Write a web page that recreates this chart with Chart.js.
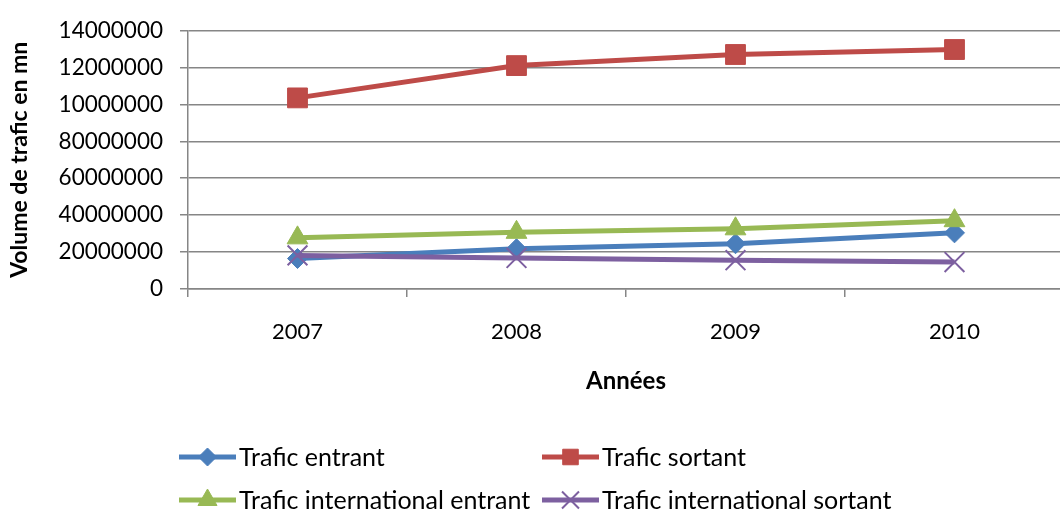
<!DOCTYPE html>
<html>
<head>
<meta charset="utf-8">
<script src="https://cdn.jsdelivr.net/npm/chart.js@4/dist/chart.umd.min.js"></script>
<style>
  html, body { margin: 0; padding: 0; background: #fff; overflow: hidden; }
  canvas { display: block; }
</style>
</head>
<body>
<canvas id="trafic" width="1080" height="516"></canvas>
<script>
const years = ["2007", "2008", "2009", "2010"];
const traficEntrant = [16500000, 21800000, 24500000, 30400000];
const traficSortant = [103500000, 121000000, 127000000, 129700000];
const intlEntrant = [27700000, 30700000, 32600000, 37000000];
const intlSortant = [18200000, 16800000, 15600000, 14600000];
const yTickLabels = ["0", "20000000", "40000000", "60000000", "80000000", "10000000", "12000000", "14000000"];

Chart.defaults.font.family = "Lato";
Chart.defaults.color = "#000";

// legend drawn by hand: two fixed columns like the original
const legendPlugin = {
  id: "bottomLegend",
  afterDraw(chart) {
    const ctx = chart.ctx;
    chart.data.datasets.forEach((ds, i) => {
      const x0 = i % 2 ? 542 : 179;
      const y = i < 2 ? 457 : 500;
      ctx.save();
      ctx.strokeStyle = ds.borderColor;
      ctx.lineWidth = 5;
      ctx.beginPath();
      ctx.moveTo(x0, y);
      ctx.lineTo(x0 + 57, y);
      ctx.stroke();
      ctx.fillStyle = ds.pointBackgroundColor;
      ctx.strokeStyle = ds.pointBorderColor;
      ctx.lineWidth = ds.pointBorderWidth;
      Chart.helpers.drawPoint(ctx, {
        pointStyle: ds.pointStyle,
        radius: ds.legendRadius,
        borderWidth: ds.pointBorderWidth,
        rotation: 0
      }, x0 + 28.5, y);
      ctx.fillStyle = "#000";
      ctx.font = "25px Lato";
      ctx.textBaseline = "middle";
      ctx.fillText(ds.label, x0 + 60, y + 1);
      ctx.restore();
    });
  }
};

new Chart(document.getElementById("trafic"), {
  type: "line",
  data: {
    labels: years,
    datasets: [
      {
        label: "Trafic entrant",
        data: traficEntrant,
        borderColor: "#4A7EBB",
        pointBackgroundColor: "#4A7EBB",
        pointBorderColor: "#4A7EBB",
        pointBorderWidth: 1,
        pointStyle: "rectRot",
        pointRadius: 10,
        legendRadius: 9,
        borderWidth: 5,
        order: 4
      },
      {
        label: "Trafic sortant",
        data: traficSortant,
        borderColor: "#BE4B48",
        pointBackgroundColor: "#BE4B48",
        pointBorderColor: "#BE4B48",
        pointBorderWidth: 1,
        pointStyle: "rect",
        pointRadius: 14,
        legendRadius: 11,
        borderWidth: 5,
        order: 3
      },
      {
        label: "Trafic international entrant",
        data: intlEntrant,
        borderColor: "#98B954",
        pointBackgroundColor: "#98B954",
        pointBorderColor: "#98B954",
        pointBorderWidth: 1,
        pointStyle: "triangle",
        pointRadius: 12,
        legendRadius: 11,
        borderWidth: 5,
        order: 2
      },
      {
        label: "Trafic international sortant",
        data: intlSortant,
        borderColor: "#7D60A0",
        pointBackgroundColor: "#7D60A0",
        pointBorderColor: "#7D60A0",
        pointBorderWidth: 2,
        pointStyle: "crossRot",
        pointRadius: 14,
        legendRadius: 12,
        borderWidth: 5,
        order: 1
      }
    ]
  },
  options: {
    responsive: false,
    animation: false,
    layout: { padding: { top: 28, left: 0, right: 0, bottom: 116 } },
    plugins: {
      legend: { display: false },
      tooltip: { enabled: false }
    },
    scales: {
      x: {
        offset: true,
        grid: {
          offset: true,
          drawOnChartArea: false,
          tickLength: 8,
          color: "#868686",
          lineWidth: 1.5
        },
        border: { color: "#868686", width: 1.5 },
        ticks: { font: { size: 22 }, padding: 22 },
        title: {
          display: true,
          text: "Années",
          font: { size: 24, weight: "bold" },
          padding: { top: 0, bottom: 4 }
        },
        afterFit(scale) { scale.height = 111; }
      },
      y: {
        min: 0,
        max: 140000000,
        grid: { color: "#868686", lineWidth: 1.5, tickLength: 8 },
        border: { color: "#868686", width: 1.5 },
        ticks: {
          stepSize: 20000000,
          font: { size: 22.5 },
          padding: 17,
          callback: (v, i) => yTickLabels[i]
        },
        title: {
          display: true,
          text: "Volume de trafic en mn",
          font: { size: 23, weight: "bold" },
          padding: { top: 6, bottom: 0 }
        },
        afterFit(scale) { scale.width = 188; }
      }
    }
  },
  plugins: [legendPlugin]
});
</script>
</body>
</html>
